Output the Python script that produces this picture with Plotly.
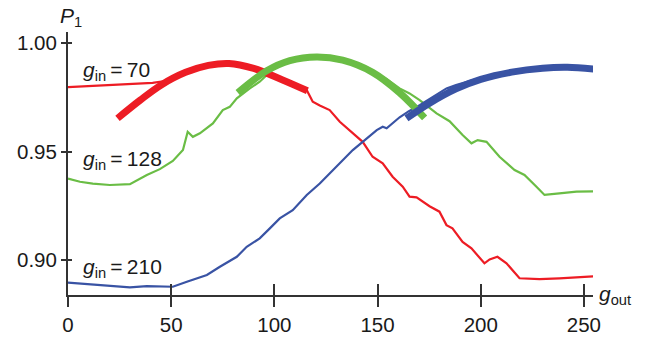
import plotly.graph_objects as go

# ---- data ----
red_x = [0, 10, 20.3, 30, 41, 47, 55, 62, 70, 78, 86, 94, 102, 110, 115.7, 118.6, 122, 126.8, 131.7, 138, 142.8,
         147.6, 152.5, 157.3, 162.2, 165.5, 168.9, 175.2, 180, 183.4, 186.3, 191.2, 195.5, 201.8, 204.3, 208.1,
         212.5, 218.8, 228.5, 238.1, 247.8, 255]
red_y = [0.9797, 0.9802, 0.9806, 0.9810, 0.9817, 0.9825, 0.9855, 0.9878, 0.9895, 0.9905, 0.9897, 0.9876, 0.9846,
         0.9812, 0.9783, 0.9730, 0.9712, 0.9691, 0.9637, 0.9584, 0.9545, 0.9476, 0.9446, 0.9384, 0.9338, 0.9292,
         0.9289, 0.9248, 0.9223, 0.9161, 0.9146, 0.9084, 0.9054, 0.8985, 0.9003, 0.9015, 0.8985, 0.8916, 0.8912,
         0.8916, 0.8923, 0.8925]

green_x = [0, 5.8, 12, 20.3, 30, 38.2, 44.5, 50.8, 55.7, 58, 60.5, 63.9, 70.2, 75, 78.4, 81.8, 88.1, 92.9, 100,
           108, 116, 124, 132, 140, 148, 155, 160.7, 165.5, 170.4, 178.6, 184.9, 191.2, 195.5, 198.5, 202.8,
           209.1, 216.4, 221.2, 227, 230.9, 238.1, 246.4, 255]
green_y = [0.9375, 0.9361, 0.9352, 0.9346, 0.9350, 0.9392, 0.9419, 0.9457, 0.9507, 0.9591, 0.9568, 0.9584, 0.9630,
           0.9691, 0.9706, 0.9745, 0.9791, 0.9822, 0.9885, 0.9922, 0.9937, 0.9938, 0.9926, 0.9905, 0.9870, 0.9830,
           0.9791, 0.9768, 0.9737, 0.9676, 0.9640, 0.9576, 0.9538, 0.9553, 0.9545, 0.9476, 0.9415, 0.9392, 0.9338,
           0.9300, 0.9307, 0.9315, 0.9317]

blue_x = [0, 15.5, 30, 38.2, 50.8, 57.6, 67.3, 73.6, 81.8, 86.6, 92.9, 97.8, 102.6, 108.9, 115.7, 122, 126.8,
          131.7, 138, 142.8, 149.6, 152.5, 154.4, 160.7, 165, 170.4, 176.7, 183.4, 188, 200, 215, 230, 242, 255]
blue_y = [0.8896, 0.8885, 0.8874, 0.8880, 0.8877, 0.8900, 0.8931, 0.8969, 0.9015, 0.9061, 0.9100, 0.9146, 0.9192,
          0.9230, 0.9300, 0.9353, 0.9400, 0.9446, 0.9507, 0.9545, 0.9599, 0.9614, 0.9607, 0.9658, 0.9685, 0.9714,
          0.9753, 0.9791, 0.9806, 0.9840, 0.9872, 0.9889, 0.9892, 0.9884]

red_fit_x = [24, 35, 45, 57, 68, 78, 90, 104, 116]
red_fit_y = [0.9653, 0.9737, 0.9806, 0.9865, 0.9897, 0.9906, 0.9883, 0.9830, 0.9780]

green_fit_x = [82.3, 96.3, 107.5, 120.5, 133.1, 147.6, 160.7, 172.8]
green_fit_y = [0.9771, 0.9872, 0.9919, 0.9936, 0.9921, 0.9865, 0.9771, 0.9655]

blue_fit_x = [164, 175, 188, 200, 215, 230, 242, 255]
blue_fit_y = [0.9653, 0.9722, 0.9789, 0.9833, 0.9866, 0.9884, 0.9888, 0.9880]

labels = ["<i>g</i><sub>in</sub>\u2009=\u200970", "<i>g</i><sub>in</sub>\u2009=\u2009128",
          "<i>g</i><sub>in</sub>\u2009=\u2009210"]
label_y = [0.9871, 0.9463, 0.8963]

x_ticks = [0, 50, 100, 150, 200, 250]
y_ticks = [0.90, 0.95, 1.00]
y_tick_text = ["0.90", "0.95", "1.00"]

RED, GREEN, BLUE = "#ED1C24", "#6ABD45", "#3953A4"
AX = "#333333"
FONT = "Liberation Sans, Arial, Helvetica, sans-serif"

fig = go.Figure()
for xs, ys, c in [(red_x, red_y, RED), (green_x, green_y, GREEN), (blue_x, blue_y, BLUE)]:
    fig.add_trace(go.Scatter(x=xs, y=ys, mode="lines", line=dict(color=c, width=2.2),
                             showlegend=False, hoverinfo="skip"))
for xs, ys, c in [(red_fit_x, red_fit_y, RED), (green_fit_x, green_fit_y, GREEN), (blue_fit_x, blue_fit_y, BLUE)]:
    fig.add_trace(go.Scatter(x=xs, y=ys, mode="lines", line=dict(color=c, width=7, shape="spline"),
                             showlegend=False, hoverinfo="skip"))
# dummy trace on overlay axes (used for inner half of crossing ticks)
fig.add_trace(go.Scatter(x=[], y=[], xaxis="x2", yaxis="y2", showlegend=False))

xr = [0, 254.4]
yr = [0.8839, 1.0051]

fig.update_layout(
    width=645, height=339,
    margin=dict(l=68, r=52, t=32, b=44, autoexpand=False),
    plot_bgcolor="white", paper_bgcolor="white",
    font=dict(family=FONT, size=21, color="#1a1a1a"),
    xaxis=dict(range=xr, tickvals=x_ticks, ticks="outside", ticklen=10, tickwidth=1.5, tickcolor=AX,
               showline=True, linecolor=AX, linewidth=2, showgrid=False, zeroline=False,
               tickfont=dict(size=20.5), automargin=False),
    yaxis=dict(range=yr, tickvals=y_ticks, ticktext=y_tick_text, ticks="outside", ticklen=5, tickwidth=1.5,
               tickcolor=AX, showline=True, linecolor=AX, linewidth=2, showgrid=False, zeroline=False,
               tickfont=dict(size=20.5), automargin=False),
    xaxis2=dict(range=xr, tickvals=x_ticks, ticks="inside", ticklen=11, tickwidth=1.5, tickcolor=AX,
                showticklabels=False, showline=False, showgrid=False, zeroline=False,
                overlaying="x", anchor="y2", side="bottom"),
    yaxis2=dict(range=yr, tickvals=y_ticks, ticks="inside", ticklen=4, tickwidth=1.5, tickcolor=AX,
                showticklabels=False, showline=False, showgrid=False, zeroline=False,
                overlaying="y", anchor="x2", side="left"),
)

for t, yv in zip(labels, label_y):
    fig.add_annotation(x=6.5, y=yv, xref="x", yref="y", text=t, showarrow=False,
                       xanchor="left", yanchor="middle", font=dict(size=21, family=FONT))

fig.add_annotation(x=-0.02, y=1.0, xref="paper", yref="paper", text="<i>P</i><sub>1</sub>",
                   showarrow=False, xanchor="left", yanchor="bottom", font=dict(size=21, family=FONT))
fig.add_annotation(x=1.008, y=0.0, xref="paper", yref="paper", text="<i>g</i><sub>out</sub>",
                   showarrow=False, xanchor="left", yanchor="middle", font=dict(size=21, family=FONT))

fig.write_html("out.html", config={"displayModeBar": False},
               post_script="document.body.style.margin='0';document.body.style.overflow='hidden';")
